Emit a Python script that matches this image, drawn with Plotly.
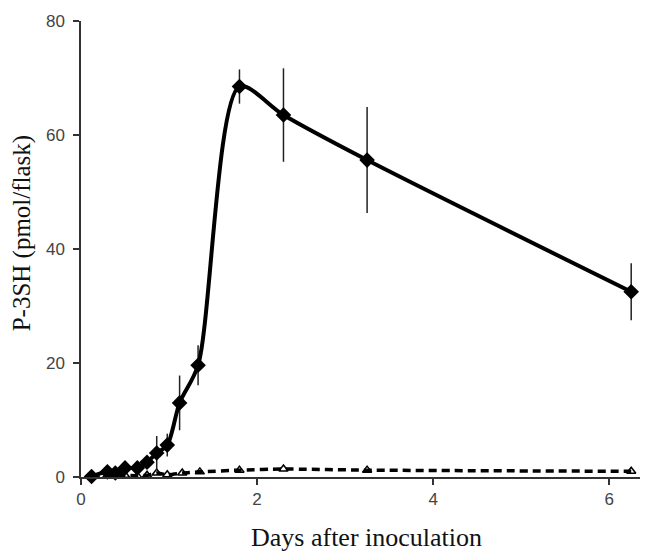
import plotly.graph_objects as go

# Solid series (diamonds)
days_a = [0.12, 0.30, 0.39, 0.50, 0.64, 0.75, 0.86, 0.98, 1.12, 1.33, 1.80, 2.30, 3.25, 6.25]
p3sh_a = [0.1, 0.9, 0.7, 1.6, 1.6, 2.6, 4.2, 5.6, 13.0, 19.6, 68.5, 63.5, 55.6, 32.5]
err_a = [0.3, 0.5, 0.5, 0.6, 0.6, 1.0, 3.0, 2.0, 4.8, 3.5, 3.0, 8.2, 9.3, 5.0]

# Dashed series (open triangles)
days_b = [0.12, 0.30, 0.39, 0.50, 0.64, 0.75, 0.86, 0.98, 1.15, 1.35, 1.80, 2.30, 3.25, 6.25]
p3sh_b = [0.1, 0.3, 0.2, 0.3, 0.2, 0.3, 0.7, 0.4, 0.7, 0.9, 1.2, 1.4, 1.2, 1.0]

x_ticks = [0, 2, 4, 6]
y_ticks = [0, 20, 40, 60, 80]

fig = go.Figure()
fig.add_trace(go.Scatter(
    x=days_b, y=p3sh_b, mode="lines+markers",
    line=dict(color="black", width=3.5, dash="8px,5px", shape="spline", smoothing=0.5),
    marker=dict(symbol="triangle-up-open", size=8, color="black", line=dict(width=1.5)),
    showlegend=False, cliponaxis=False,
))
fig.add_trace(go.Scatter(
    x=days_a, y=p3sh_a, mode="lines+markers",
    line=dict(color="black", width=4, shape="spline", smoothing=0.8),
    marker=dict(symbol="diamond", size=12, color="black"),
    error_y=dict(type="data", array=err_a, visible=True, color="#222", thickness=1.5, width=0),
    showlegend=False, cliponaxis=False,
))

axis_common = dict(
    showgrid=False, zeroline=False, showline=True, linecolor="#333", linewidth=1.5,
    ticks="outside", ticklen=6, tickcolor="#333", tickwidth=1.5, automargin=False,
    tickfont=dict(family="Liberation Sans, Arial, sans-serif", size=17, color="#444"),
)
fig.update_xaxes(range=[0, 6.35], tickvals=x_ticks, **axis_common)
fig.update_yaxes(range=[0, 80], tickvals=y_ticks, ticklabelstandoff=5, **axis_common)

title_font = dict(family="Liberation Serif, Times New Roman, serif", size=26, color="#111")
fig.add_annotation(text="Days after inoculation", xref="paper", yref="paper",
                   x=0.51, y=-0.132, xanchor="center", yanchor="middle",
                   showarrow=False, font=title_font)
fig.add_annotation(text="P-3SH (pmol/flask)", xref="paper", yref="paper",
                   x=-0.105, y=0.535, xanchor="center", yanchor="middle", textangle=-90,
                   showarrow=False, font=dict(family="Liberation Serif, Times New Roman, serif", size=25, color="#111"))

fig.update_layout(
    width=644, height=547,
    margin=dict(l=73, r=12, t=13, b=78),
    plot_bgcolor="white", paper_bgcolor="white",
)
fig.write_html("out.html")
